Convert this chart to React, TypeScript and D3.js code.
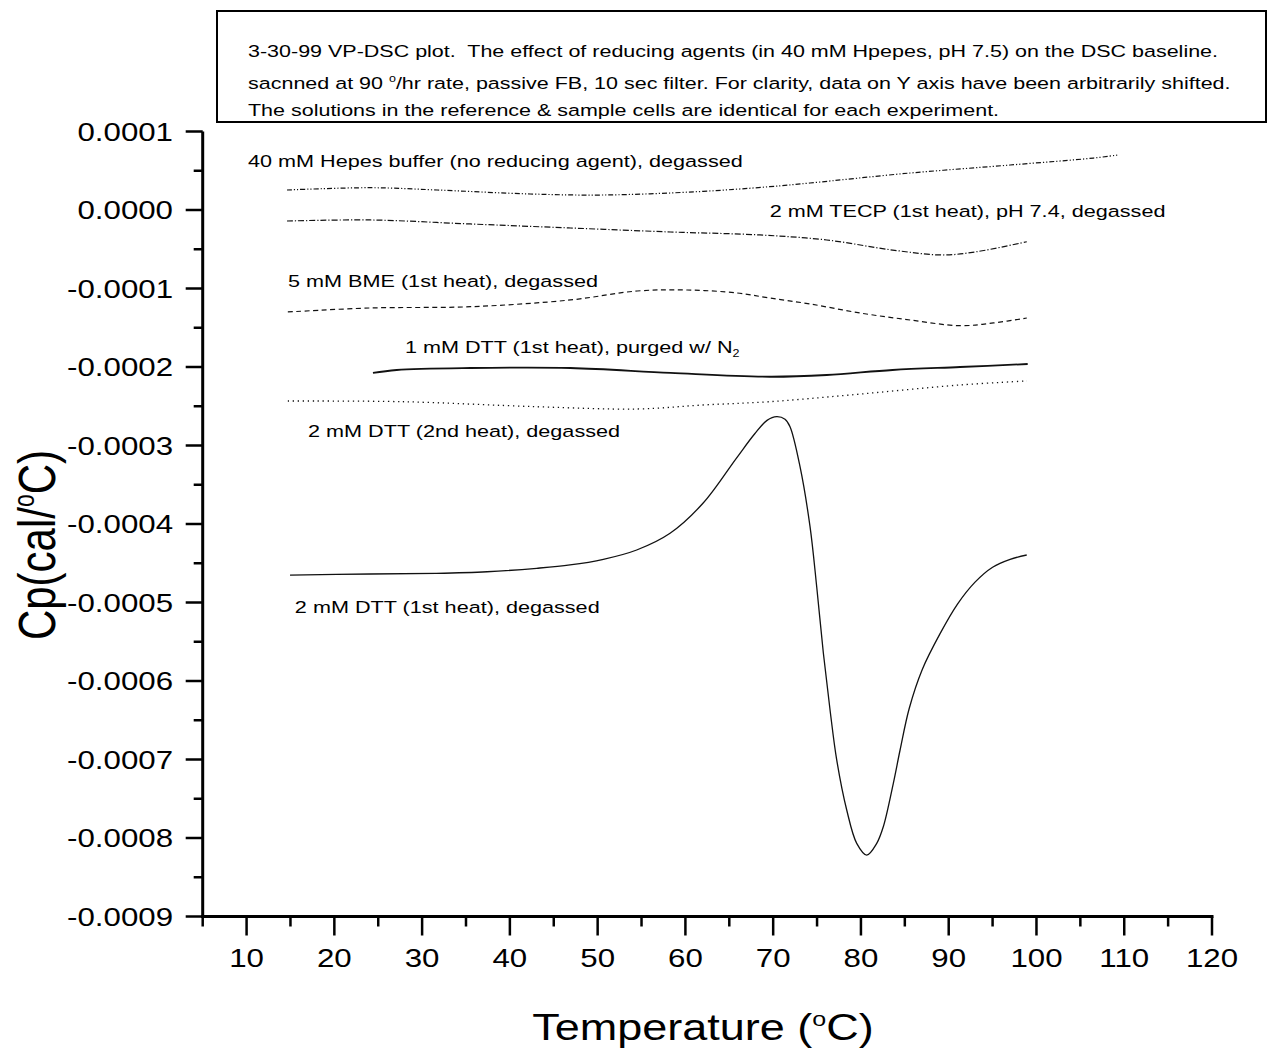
import React from "react";
import * as d3 from "d3";

// ---- data (Temperature in °C, Cp in cal/°C) ----
const hepesT = [14.6, 24.1, 31.7, 42.3, 50.6, 61.3, 69.6, 74.2, 85.6, 97.0, 106.5, 109.2];
const hepesCp = [2.55e-5, 2.84e-5, 2.55e-5, 2.04e-5, 1.91e-5, 2.33e-5, 2.97e-5, 3.44e-5, 4.71e-5, 5.73e-5, 6.62e-5, 7.0e-5];

const tecpT = [14.6, 24.1, 35.5, 46.9, 58.3, 68.5, 76.1, 83.6, 89.3, 93.2, 98.9];
const tecpCp = [-1.4e-5, -1.27e-5, -1.78e-5, -2.29e-5, -2.8e-5, -3.18e-5, -3.82e-5, -5.1e-5, -5.73e-5, -5.31e-5, -4.04e-5];

const bmeT = [14.7, 24.1, 35.5, 46.9, 54.5, 60.2, 65.9, 69.6, 74.2, 79.9, 85.6, 91.3, 95.1, 98.9];
const bmeCp = [-1.299e-4, -1.248e-4, -1.232e-4, -1.146e-4, -1.032e-4, -1.019e-4, -1.057e-4, -1.121e-4, -1.197e-4, -1.312e-4, -1.401e-4, -1.474e-4, -1.439e-4, -1.376e-4];

const dtt1mMT = [24.4, 27.1, 35.5, 46.9, 58.3, 69.6, 76.1, 83.6, 91.3, 99.0];
const dtt1mMCp = [-2.076e-4, -2.038e-4, -2.013e-4, -2.013e-4, -2.076e-4, -2.124e-4, -2.102e-4, -2.038e-4, -2.0e-4, -1.962e-4];

const dtt2ndT = [14.7, 27.8, 43.1, 54.5, 62.0, 69.6, 78.7, 91.3, 98.9];
const dtt2ndCp = [-2.433e-4, -2.442e-4, -2.506e-4, -2.535e-4, -2.484e-4, -2.442e-4, -2.357e-4, -2.229e-4, -2.178e-4];

const dtt1stT = [14.95, 24.1, 31.6, 37.4, 43.06, 46.85, 50.65, 54.45, 58.25, 62.0, 65.8, 67.9, 69.3, 70.41, 71.35, 71.92, 73.06, 74.2, 74.96, 75.72, 76.48, 77.24, 78.38, 79.52, 80.66, 81.8, 82.55, 83.69, 84.46, 85.5, 87.0, 89.0, 91.0, 93.0, 95.0, 97.0, 98.89];
const dtt1stCp = [-4.65e-4, -4.637e-4, -4.628e-4, -4.608e-4, -4.564e-4, -4.522e-4, -4.45e-4, -4.331e-4, -4.118e-4, -3.736e-4, -3.163e-4, -2.85e-4, -2.68e-4, -2.633e-4, -2.666e-4, -2.761e-4, -3.27e-4, -4.034e-4, -4.799e-4, -5.647e-4, -6.369e-4, -7.006e-4, -7.643e-4, -8.068e-4, -8.217e-4, -8.068e-4, -7.856e-4, -7.303e-4, -6.879e-4, -6.35e-4, -5.85e-4, -5.4e-4, -5.02e-4, -4.74e-4, -4.55e-4, -4.45e-4, -4.395e-4];

// label anchors (data coordinates)
const labelTexts = [
  "40 mM Hepes buffer (no reducing agent), degassed",
  "2 mM TECP (1st heat), pH 7.4, degassed",
  "5 mM BME (1st heat), degassed",
  "1 mM DTT (1st heat), purged w/ N",
  "2 mM DTT (2nd heat), degassed",
  "2 mM DTT (1st heat), degassed",
];
const labelT = [10.16, 69.6, 14.72, 28.04, 17.0, 15.5];
const labelCp = [0.548e-4, -0.089e-4, -0.981e-4, -1.822e-4, -2.892e-4, -5.134e-4];

const xTicks = [10, 20, 30, 40, 50, 60, 70, 80, 90, 100, 110, 120];
const yTicks = [0.0001, 0.0, -0.0001, -0.0002, -0.0003, -0.0004, -0.0005, -0.0006, -0.0007, -0.0008, -0.0009];

const titleLines = [
  "3-30-99 VP-DSC plot.  The effect of reducing agents (in 40 mM Hpepes, pH 7.5) on the DSC baseline.",
  "The solutions in the reference & sample cells are identical for each experiment.",
];

const W = 1269;
const H = 1057;
const SX = 1.25;
const FONT = "Arial, 'Liberation Sans', Helvetica, sans-serif";

function STxt(props: any) {
  const { x, y, size, anchor, rotate, children, weight } = props;
  return (
    <text
      transform={`translate(${x},${y}) scale(${SX},1)${rotate ? ` rotate(${rotate})` : ""}`}
      fontSize={size}
      textAnchor={anchor || "start"}
      fontFamily={FONT}
      fontWeight={weight || "normal"}
      fill="#000"
      style={{ whiteSpace: "pre" }}
    >
      {children}
    </text>
  );
}

export default function App() {
  const x = d3.scaleLinear().domain([5, 120]).range([202.7, 1212]);
  const y = d3.scaleLinear().domain([-0.0009, 0.0001]).range([916.5, 131.5]);

  const line = d3
    .line<[number, number]>()
    .x((d) => x(d[0]))
    .y((d) => y(d[1]))
    .curve(d3.curveCatmullRom.alpha(0.5));

  const zip = (a: number[], b: number[]) => a.map((v, i) => [v, b[i]] as [number, number]);

  const series = [
    { d: zip(hepesT, hepesCp), dash: "5 2 1.2 2 1.2 2", w: 1.2 },
    { d: zip(tecpT, tecpCp), dash: "6 2 1.2 2", w: 1.2 },
    { d: zip(bmeT, bmeCp), dash: "5 3.5", w: 1.2 },
    { d: zip(dtt1mMT, dtt1mMCp), dash: undefined, w: 1.8 },
    { d: zip(dtt2ndT, dtt2ndCp), dash: "1.3 3.7", w: 1.3 },
    { d: zip(dtt1stT, dtt1stCp), dash: undefined, w: 1.3 },
  ];

  const minorX = d3.range(5, 121, 5).filter((v) => v % 10 !== 0);
  const minorY = d3.range(-0.00085, 0.0001, 0.0001);

  const x0 = x(5);
  const yBottom = y(-0.0009);
  const yTop = y(0.0001);

  return (
    <svg width={W} height={H} style={{ position: "absolute", left: 0, top: 0, background: "#fff" }}>
      <rect x={0} y={0} width={W} height={H} fill="#fff" />

      {/* title box */}
      <rect x={217} y={11} width={1049} height={111} fill="none" stroke="#000" strokeWidth={2} />
      <STxt x={248} y={57} size={17.2}>{titleLines[0]}</STxt>
      <STxt x={248} y={89} size={17.2}>
        {"sacnned at 90 "}<tspan fontSize={10} dy={-7}>o</tspan>
        <tspan dy={7}>/hr rate, passive FB, 10 sec filter. For clarity, data on Y axis have been arbitrarily shifted.</tspan>
      </STxt>
      <STxt x={248} y={116} size={17.2}>{titleLines[1]}</STxt>

      {/* curves */}
      {series.map((s, i) => (
        <path
          key={i}
          d={line(s.d) || ""}
          fill="none"
          stroke="#111"
          strokeWidth={s.w}
          strokeDasharray={s.dash}
        />
      ))}

      {/* curve labels */}
      {labelTexts.map((t, i) => (
        <STxt key={i} x={x(labelT[i])} y={y(labelCp[i])} size={17.3}>
          {t}
          {i === 3 ? (
            <tspan fontSize={10} dy={4}>2</tspan>
          ) : null}
        </STxt>
      ))}

      {/* axes */}
      <line x1={x0} x2={x0} y1={yTop} y2={yBottom + 1.5} stroke="#000" strokeWidth={3} />
      <line x1={x0 - 1.5} x2={x(120) + 1.5} y1={yBottom} y2={yBottom} stroke="#000" strokeWidth={3} />

      {yTicks.map((v, i) => (
        <g key={"yt" + i}>
          <line x1={x0 - 17} x2={x0} y1={y(v)} y2={y(v)} stroke="#000" strokeWidth={2.5} />
          <STxt x={173} y={y(v) + 9} size={25} anchor="end">
            {d3.format(".4f")(v).replace("−", "-")}
          </STxt>
        </g>
      ))}
      {minorY.map((v, i) => (
        <line key={"ym" + i} x1={x0 - 9} x2={x0} y1={y(v)} y2={y(v)} stroke="#000" strokeWidth={2.5} />
      ))}

      {xTicks.map((v, i) => (
        <g key={"xt" + i}>
          <line x1={x(v)} x2={x(v)} y1={yBottom} y2={yBottom + 19} stroke="#000" strokeWidth={2.5} />
          <STxt x={x(v)} y={967} size={25} anchor="middle">{String(v)}</STxt>
        </g>
      ))}
      {minorX.map((v, i) => (
        <line key={"xm" + i} x1={x(v)} x2={x(v)} y1={yBottom} y2={yBottom + 10} stroke="#000" strokeWidth={2.5} />
      ))}

      {/* axis titles */}
      <STxt x={703} y={1040} size={36} anchor="middle">
        Temperature (<tspan fontSize={20} dy={-14}>o</tspan>
        <tspan dy={14}>C)</tspan>
      </STxt>
      <STxt x={55} y={545} size={42} anchor="middle" rotate={-90}>
        Cp(cal/<tspan fontSize={23} dy={-17}>o</tspan>
        <tspan dy={17}>C)</tspan>
      </STxt>
    </svg>
  );
}
